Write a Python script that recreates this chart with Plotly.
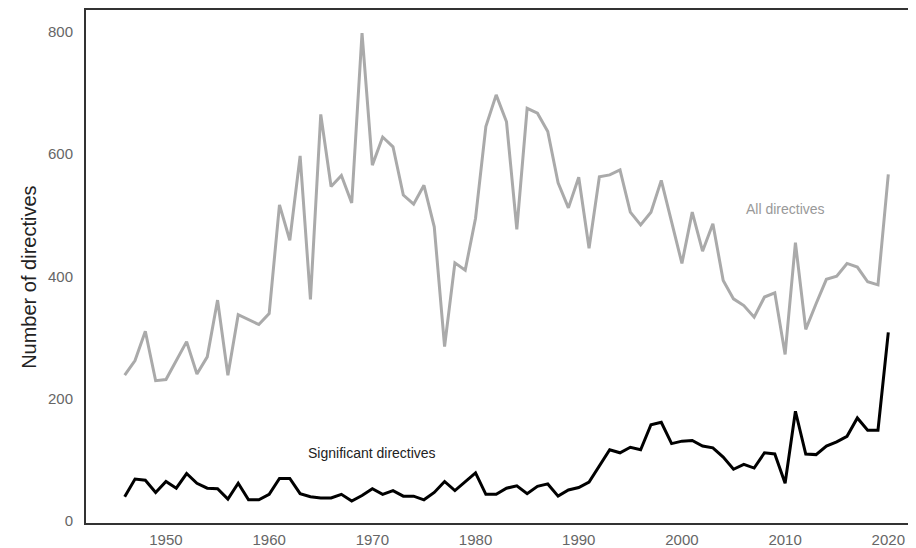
import plotly.graph_objects as go

years = list(range(1946, 2021))

all_directives = [
    238, 262, 310, 229, 231, 262, 293, 240, 268, 361,  # 1946-1955
    238, 337, 329, 321, 339, 517, 459, 597, 362, 665,  # 1956-1965
    547, 565, 520, 798, 582, 628, 612, 533, 518, 549,  # 1966-1975
    481, 285, 422, 410, 495, 645, 697, 653, 477, 675,  # 1976-1985
    667, 637, 553, 512, 562, 446, 563, 566, 574, 505,  # 1986-1995
    484, 505, 557, 489, 421, 505, 441, 486, 393, 363,  # 1996-2005
    352, 333, 366, 373, 272, 455, 313, 355, 395, 400,  # 2006-2015
    421, 415, 391, 386, 567,                           # 2016-2020
]

significant_directives = [
    39, 68, 66, 46, 64, 53, 77, 61, 53, 52,    # 1946-1955
    35, 61, 34, 34, 43, 69, 69, 44, 39, 37,    # 1956-1965
    37, 43, 32, 41, 52, 43, 49, 40, 40, 34,    # 1966-1975
    46, 64, 49, 63, 78, 43, 43, 53, 57, 44,    # 1976-1985
    56, 60, 40, 50, 54, 63, 89, 116, 111, 120, # 1986-1995
    116, 157, 161, 126, 130, 131, 122, 119, 104, 84,  # 1996-2005
    92, 86, 111, 109, 61, 179, 109, 108, 122, 129,    # 2006-2015
    138, 168, 148, 148, 308,                          # 2016-2020
]

x_ticks = [1950, 1960, 1970, 1980, 1990, 2000, 2010, 2020]
y_ticks = [0, 200, 400, 600, 800]

label_all = "All directives"
label_sig = "Significant directives"
y_title = "Number of directives"

fig = go.Figure()
fig.add_trace(go.Scatter(
    x=years, y=all_directives, mode="lines",
    line=dict(color="#aaaaaa", width=3), name=label_all, hoverinfo="x+y",
))
fig.add_trace(go.Scatter(
    x=years, y=significant_directives, mode="lines",
    line=dict(color="#000000", width=3), name=label_sig, hoverinfo="x+y",
))

fig.add_annotation(x=2010, y=510, text=label_all, showarrow=False,
                   font=dict(size=14, color="#999999"))
fig.add_annotation(x=1970, y=110, text=label_sig, showarrow=False,
                   font=dict(size=14, color="#222222"))
fig.add_annotation(x=-0.069, y=0.478, xref="paper", yref="paper",
                   text=y_title, textangle=-90, showarrow=False,
                   xanchor="center", yanchor="middle",
                   font=dict(size=20, color="#222222"))

fig.update_layout(
    width=908, height=540,
    margin=dict(l=78, r=5, t=2, b=25, autoexpand=False),
    paper_bgcolor="white", plot_bgcolor="white",
    showlegend=False,
    font=dict(family="Liberation Sans, Arial, sans-serif"),
    xaxis=dict(
        range=[1942.25, 2022.2],
        tickvals=x_ticks,
        showgrid=False, zeroline=False,
        showline=True, linecolor="#333333", linewidth=2, mirror=True,
        ticks="", tickfont=dict(size=15, color="#666666"),
        ticklabelstandoff=2, automargin=False,
    ),
    yaxis=dict(
        range=[-4, 836],
        tickvals=y_ticks,
        showgrid=False, zeroline=False,
        showline=True, linecolor="#333333", linewidth=2,
        ticks="", tickfont=dict(size=15, color="#666666"),
        ticklabelstandoff=8, automargin=False,
    ),
)

fig.write_html("out.html")
